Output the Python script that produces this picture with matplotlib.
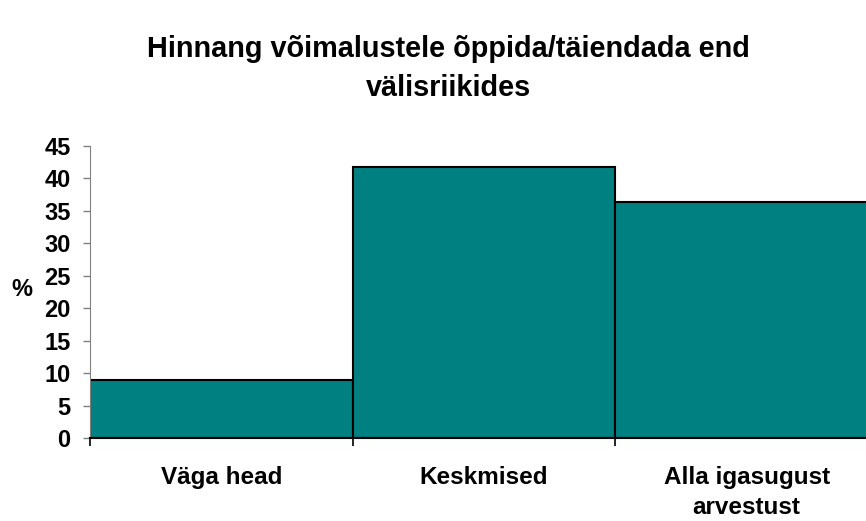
import numpy as np
import matplotlib
matplotlib.use('Agg')
import matplotlib.pyplot as plt

# data
categories = ['Väga head', 'Keskmised', 'Alla igasugust\narvestust']
values = [9.0, 41.8, 36.4]
y_ticks = list(range(0, 50, 5))

plt.rcParams['font.family'] = ['Liberation Sans', 'DejaVu Sans']
plt.rcParams['font.weight'] = 'bold'

fig = plt.figure(figsize=(8.66, 5.21), dpi=100)
ax = fig.add_axes([90 / 866, 83 / 521, 788 / 866, 292 / 521])

x = np.arange(len(categories))
ax.bar(x, values, width=1.0, color='#008080', edgecolor='black', linewidth=1.5)

ax.set_xlim(-0.5, len(categories) - 0.5)
ax.set_ylim(0, 45)
ax.set_yticks(y_ticks)
ax.tick_params(axis='y', labelsize=17, length=5, width=1, color='#808080', pad=9)

# boundary ticks, labels centred under the bars
ax.set_xticks(np.arange(len(categories) + 1) - 0.5)
ax.set_xticklabels([])
ax.tick_params(axis='x', which='major', length=6, width=1.2, color='black')
ax.set_xticks(x, minor=True)
ax.set_xticklabels(categories, minor=True, fontsize=17.5, fontweight='bold', linespacing=1.4)
ax.tick_params(axis='x', which='minor', length=0, pad=20)

ax.spines['top'].set_visible(False)
ax.spines['right'].set_visible(False)
ax.spines['left'].set_color('#808080')
ax.spines['bottom'].set_linewidth(1.5)

ax.set_ylabel('%', rotation=0, fontsize=17, fontweight='bold', va='center', ha='center')
ax.yaxis.set_label_coords(-0.086, 0.507)

fig.text(0.518, 0.868, 'Hinnang võimalustele õppida/täiendada end\nvälisriikides',
         ha='center', va='center', fontsize=20.8, fontweight='bold', linespacing=1.5)

fig.savefig('out.png', dpi=100)
